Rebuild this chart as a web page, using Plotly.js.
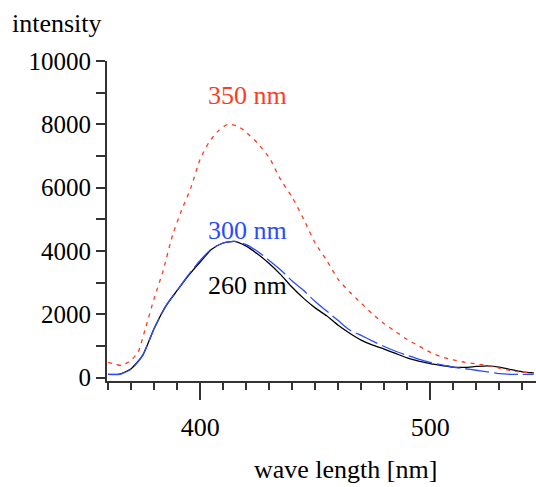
<!DOCTYPE html>
<html><head><meta charset="utf-8">
<script src="https://cdn.plot.ly/plotly-3.0.1.min.js"></script>
<style>html,body{margin:0;padding:0;background:#fff}#chart{width:536px;height:487px}</style>
</head><body><div id="chart"></div>
<script>
const wl260 = [360,365,370,375,380,385,390,395,400,405,410,415,420,425,430,435,440,445,450,455,460,465,470,475,480,485,490,495,500,505,510,515,520,525,530,535,540,545];
const int260 = [100,110,280,700,1550,2250,2750,3230,3650,4050,4250,4300,4150,3900,3600,3250,2850,2500,2200,1950,1650,1400,1180,1020,900,760,620,520,440,380,330,320,350,370,330,250,180,150];
const wl300 = [360,365,370,375,380,385,390,395,400,405,410,415,420,425,430,435,440,445,450,455,460,465,470,475,480,485,490,495,500,505,510,515,520,525,530,535,540,545];
const int300 = [100,100,260,700,1550,2250,2750,3250,3700,4070,4250,4300,4200,3980,3700,3400,3050,2750,2400,2100,1800,1500,1330,1150,980,830,700,580,480,400,330,280,230,180,120,100,100,100];
const wl350 = [360,363,366,370,373,376,380,384,388,392,396,400,404,408,412,416,420,425,430,435,440,445,450,455,460,465,470,475,480,485,490,495,500,505,510,515,520,525,530,535,540,545];
const int350 = [480,420,380,550,800,1500,2500,3400,4500,5300,6000,6900,7450,7800,8000,7950,7750,7400,6950,6250,5700,5000,4250,3700,3100,2700,2350,2000,1700,1450,1200,1000,800,650,560,480,430,380,300,220,170,150];
const labels = ["350 nm","300 nm","260 nm"];
const labelY = [8910,4650,2910];
const colors = ["#ff3b1f","#2b4bff","#000000"];

const font = 'Liberation Serif, Times New Roman, serif';
const traces = [
  {x: wl260, y: int260, mode:'lines', line:{color:colors[2], width:1.3, shape:'spline', smoothing:0.6}, name:labels[2]},
  {x: wl300, y: int300, mode:'lines', line:{color:colors[1], width:1.3, dash:'24px,5px', shape:'spline', smoothing:0.6}, name:labels[1]},
  {x: wl350, y: int350, mode:'lines', line:{color:colors[0], width:1.3, dash:'4px,5px', shape:'spline', smoothing:0.6}, name:labels[0]}
];
const anns = labels.map((t,i)=>({x:402.5, y:labelY[i], xref:'x', yref:'y', text:t, showarrow:false, xanchor:'left', yanchor:'middle', font:{family:font, size:26, color:colors[i]}}));
anns.push({x:-0.226, y:1.118, xref:'paper', yref:'paper', text:'intensity', showarrow:false, xanchor:'left', yanchor:'middle', font:{family:font, size:26, color:'#000'}});
anns.push({x:0.555, y:-0.2755, xref:'paper', yref:'paper', text:'wave length [nm]', showarrow:false, xanchor:'center', yanchor:'middle', font:{family:font, size:26, color:'#000'}});

const layout = {
  width:536, height:487,
  margin:{l:107, r:0, t:61, b:106},
  paper_bgcolor:'#fff', plot_bgcolor:'#fff',
  showlegend:false,
  font:{family:font, size:26, color:'#000'},
  xaxis:{range:[359.5,546], showgrid:false, zeroline:false, showline:true, linecolor:'#333', linewidth:2,
    tickmode:'linear', tick0:400, dtick:100, ticks:'outside', ticklen:17, tickwidth:2, tickcolor:'#333',
    ticklabelstandoff:5, tickfont:{family:font, size:26, color:'#000'},
    minor:{tick0:360, dtick:10, ticks:'outside', ticklen:7, tickwidth:2, tickcolor:'#333', showgrid:false}},
  yaxis:{range:[-110,10000], showgrid:false, zeroline:false, showline:true, linecolor:'#333', linewidth:2,
    tickmode:'linear', tick0:0, dtick:2000, tickformat:'d', ticks:'outside', ticklen:9, tickwidth:2, tickcolor:'#333',
    tickfont:{family:font, size:25, color:'#000'},
    minor:{tick0:0, dtick:1000, ticks:'outside', ticklen:9, tickwidth:2, tickcolor:'#333', showgrid:false}},
  annotations:anns
};
Plotly.newPlot('chart', traces, layout, {displayModeBar:false, staticPlot:true});
</script></body></html>
